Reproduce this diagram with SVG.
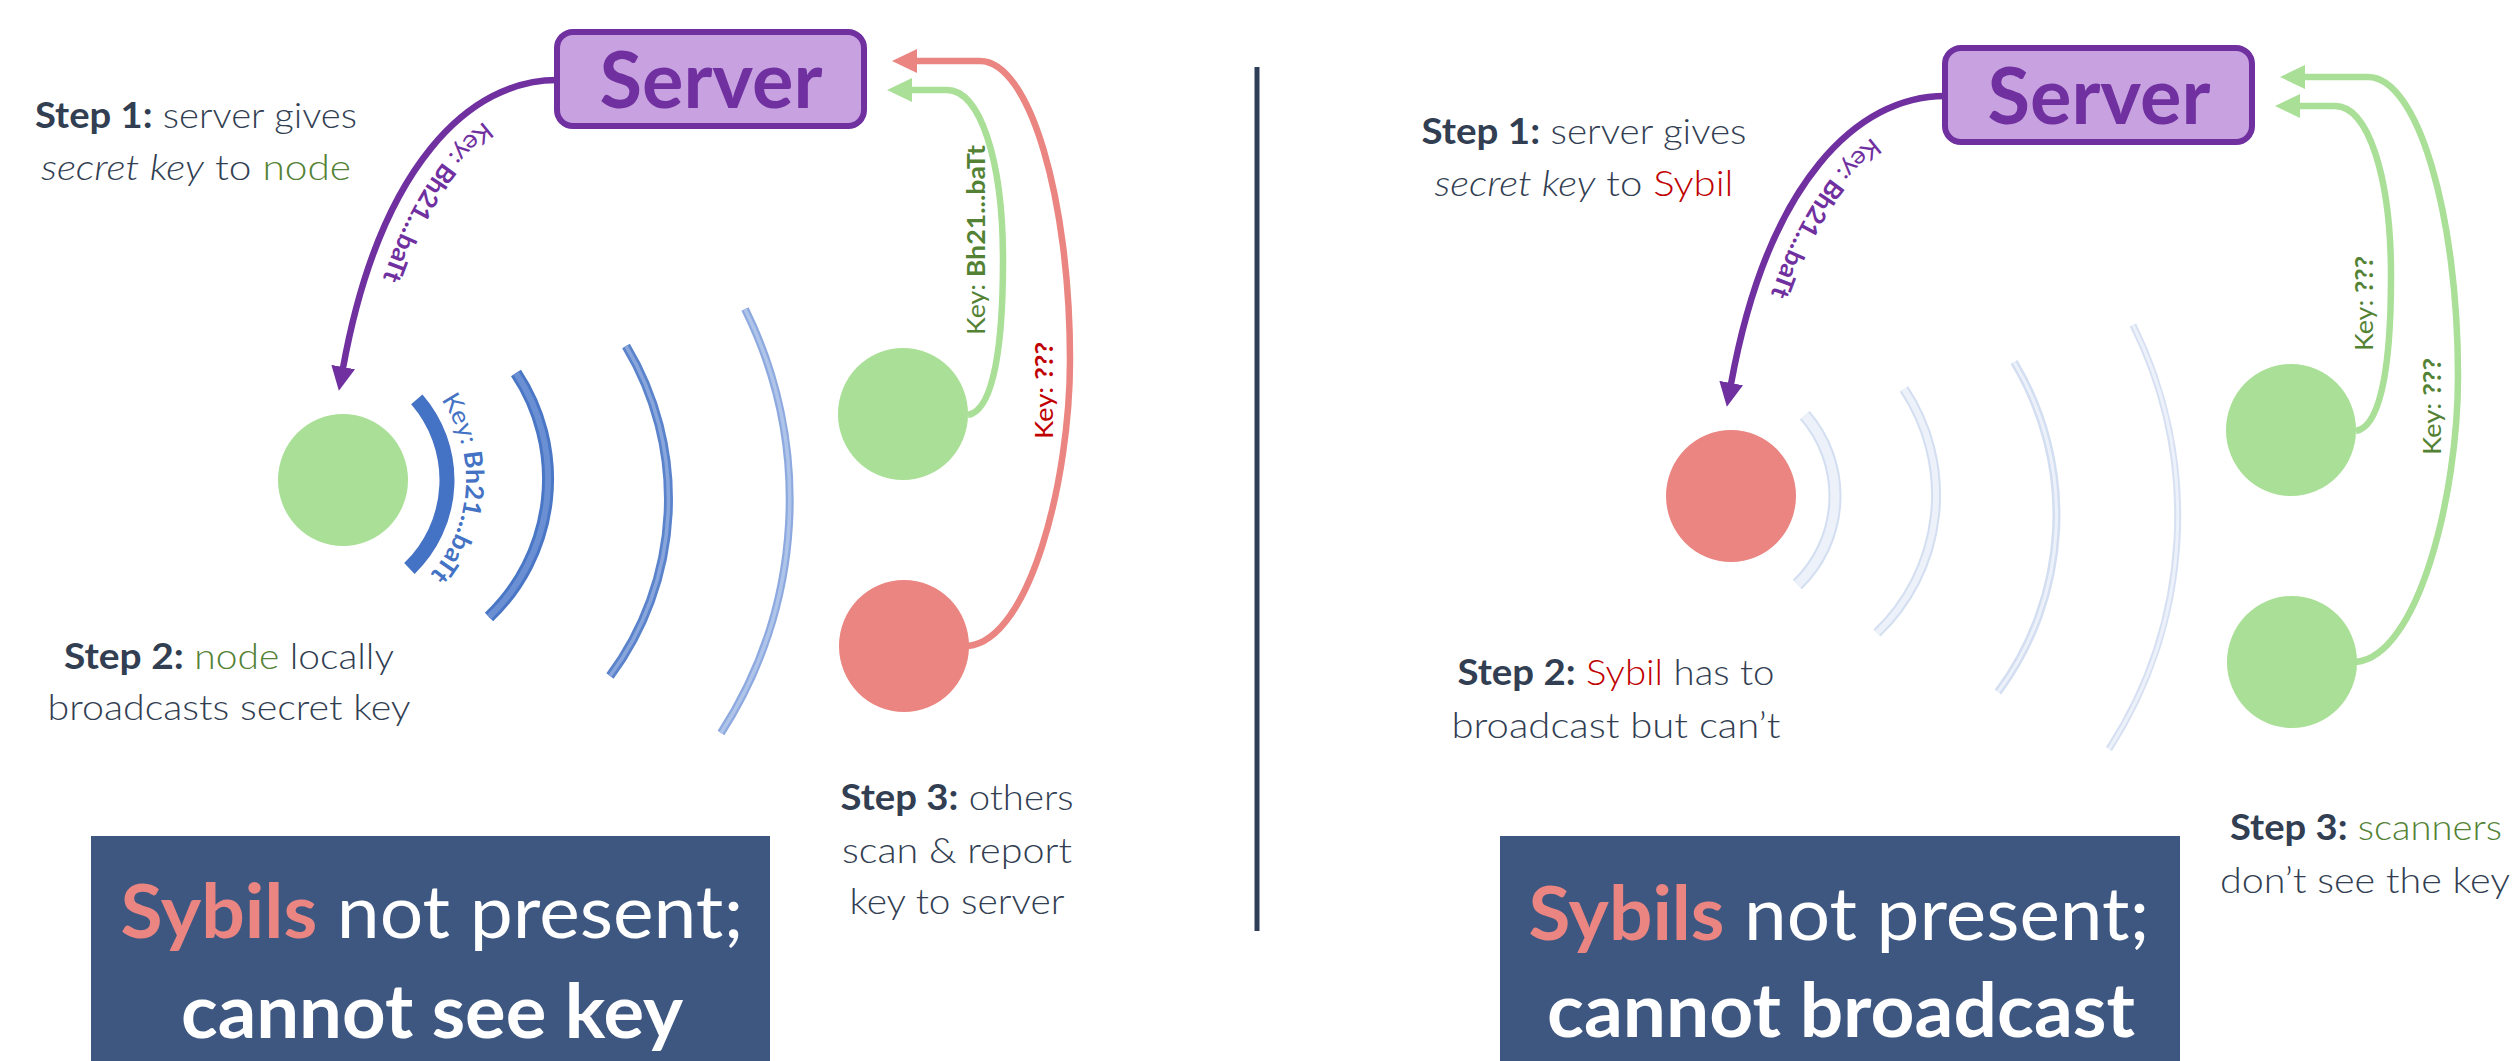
<svg xmlns="http://www.w3.org/2000/svg" width="2516" height="1061" viewBox="0 0 2516 1061">
  <defs>
    <style>
      .txt { font-family: Lato, "Open Sans", "Liberation Sans", sans-serif; fill: #323E52; }
      .step { font-size: 36px; font-weight: 300; }
      .b { font-weight: 700; }
      .i { font-style: italic; }
      .g { fill: #548235; }
      .r { fill: #C00000; }
      .key { font-size: 25px; font-weight: 400; }
      .srv-box { fill: #C8A2E0; stroke: #7030A0; stroke-width: 6; }
      .srv-txt { font-family: Lato, "Open Sans", "Liberation Sans", sans-serif; font-size: 78px; font-weight: 700; fill: #7030A0; }
      .banner { fill: #3E5781; }
      .banner-txt { font-family: Lato, "Open Sans", "Liberation Sans", sans-serif; font-size: 74px; fill: #FFFFFF; }
      .salmon { fill: #EA8581; }
      .green-node { fill: #A9DF96; }
      .red-node { fill: #EA8581; }
      .conn { fill: none; stroke-width: 6.5; }
      .c-purple { stroke: #7030A0; marker-end: url(#ah-purple); }
      .c-green { stroke: #A9DF96; marker-end: url(#ah-green); }
      .c-red { stroke: #EA8581; marker-end: url(#ah-red); }
      .wave { fill: none; stroke-linecap: butt; }
    </style>
    <marker id="ah-purple" markerUnits="userSpaceOnUse" markerWidth="24" markerHeight="24" viewBox="0 0 24 24" refX="1" refY="12" orient="auto">
      <path d="M0,0 L24,12 L0,24 Z" fill="#7030A0"/>
    </marker>
    <marker id="ah-green" markerUnits="userSpaceOnUse" markerWidth="25" markerHeight="24" viewBox="0 0 25 24" refX="1" refY="12" orient="auto">
      <path d="M0,0 L25,12 L0,24 Z" fill="#A9DF96"/>
    </marker>
    <marker id="ah-red" markerUnits="userSpaceOnUse" markerWidth="25" markerHeight="24" viewBox="0 0 25 24" refX="1" refY="12" orient="auto">
      <path d="M0,0 L25,12 L0,24 Z" fill="#EA8581"/>
    </marker>
    <!-- baseline guides for curved labels -->
    <path id="purple-label-path" d="M 567,92 C 484,92 394,177 357,380"/>
    <path id="blue-label-path" d="M 438.9,396.5 A 142 142 0 0 1 426.1,578.6"/>
  </defs>

  <rect width="2516" height="1061" fill="#FFFFFF"/>

  <!-- divider -->
  <line x1="1257" y1="67" x2="1257" y2="931" stroke="#2F3E58" stroke-width="5"/>

  <!-- ===== left panel: honest node ===== -->
  <g id="waves-left">
    <path class="wave" d="M 416.8,399.3 A 123 123 0 0 1 409.4,568.5" stroke="#4472C4" stroke-width="15"/>
    <path class="wave" d="M 516,373 A 191 191 0 0 1 489,617" stroke="#4A76C6" stroke-width="12"/>
    <path class="wave" d="M 516,373 A 191 191 0 0 1 489,617" stroke="#6B8FD3" stroke-width="6"/>
    <path class="wave" d="M 626,346 A 297 297 0 0 1 610,676" stroke="#5A83CC" stroke-width="9"/>
    <path class="wave" d="M 626,346 A 297 297 0 0 1 610,676" stroke="#88A6DC" stroke-width="3.5"/>
    <path class="wave" d="M 745,309 A 430 430 0 0 1 721,733" stroke="#8DA9DF" stroke-width="8"/>
    <path class="wave" d="M 745,309 A 430 430 0 0 1 721,733" stroke="#AFC4E9" stroke-width="3.5"/>
    <text class="txt key" style="fill:#4472C4"><textPath href="#blue-label-path" startOffset="4" textLength="188" lengthAdjust="spacingAndGlyphs">Key: <tspan class="b">Bh21...baTt</tspan></textPath></text>
  </g>

  <g id="connectors">
    <g id="connectors-left">
      <path class="conn c-purple" d="M 557,80 C 470,80 380,165 343,368"/>
      <path class="conn c-green" d="M 968,415 C 995,410 1003,340 1003,260 C 1003,160 980,90 947,90 L 911,90"/>
      <path class="conn c-red" d="M 968,646 C 1030,640 1070,480 1070,360 C 1070,200 1030,61 980,61 L 916,61"/>
      <text class="txt key" style="fill:#7030A0"><textPath href="#purple-label-path" startOffset="48%" text-anchor="middle" textLength="190" lengthAdjust="spacingAndGlyphs">Key: <tspan class="b">Bh21...baTt</tspan></textPath></text>
      <text class="txt key g" transform="translate(985,335) rotate(-90)" textLength="190" lengthAdjust="spacingAndGlyphs">Key: <tspan class="b">Bh21...baTt</tspan></text>
      <text class="txt key r" transform="translate(1053,439) rotate(-90)" textLength="97" lengthAdjust="spacingAndGlyphs">Key: <tspan class="b">???</tspan></text>
    </g>
    <g id="connectors-right" transform="translate(1388,16)">
      <path class="conn c-purple" d="M 557,80 C 470,80 380,165 343,368"/>
      <path class="conn c-green" d="M 968,415 C 995,410 1003,340 1003,260 C 1003,160 980,90 947,90 L 911,90"/>
      <path class="conn c-green" d="M 968,646 C 1030,640 1070,480 1070,360 C 1070,200 1030,61 980,61 L 916,61"/>
      <text class="txt key" style="fill:#7030A0"><textPath href="#purple-label-path" startOffset="48%" text-anchor="middle" textLength="190" lengthAdjust="spacingAndGlyphs">Key: <tspan class="b">Bh21...baTt</tspan></textPath></text>
      <text class="txt key g" transform="translate(985,335) rotate(-90)" textLength="95" lengthAdjust="spacingAndGlyphs">Key: <tspan class="b">???</tspan></text>
      <text class="txt key g" transform="translate(1053,439) rotate(-90)" textLength="97" lengthAdjust="spacingAndGlyphs">Key: <tspan class="b">???</tspan></text>
    </g>
  </g>

  <g id="server-left">
    <rect class="srv-box" x="557" y="32" width="307" height="94" rx="16"/>
    <text class="srv-txt" x="711" y="108" text-anchor="middle" textLength="223" lengthAdjust="spacingAndGlyphs">Server</text>
  </g>
  <g id="node-left-broadcaster"><ellipse class="green-node" cx="343" cy="480" rx="65" ry="66"/></g>
  <g id="node-left-scanner"><ellipse class="green-node" cx="903" cy="414" rx="65" ry="66"/></g>
  <g id="node-left-sybil"><ellipse class="red-node" cx="904" cy="646" rx="65" ry="66"/></g>

  <g id="notes-left" class="txt step">
    <text x="196" y="128" text-anchor="middle" textLength="322" lengthAdjust="spacingAndGlyphs"><tspan class="b">Step 1:</tspan> server gives</text>
    <text x="196" y="180" text-anchor="middle" textLength="310" lengthAdjust="spacingAndGlyphs"><tspan class="i">secret key</tspan> to <tspan class="g">node</tspan></text>
    <text x="229" y="669" text-anchor="middle" textLength="330" lengthAdjust="spacingAndGlyphs"><tspan class="b">Step 2:</tspan> <tspan class="g">node</tspan> locally</text>
    <text x="229" y="720" text-anchor="middle" textLength="363" lengthAdjust="spacingAndGlyphs">broadcasts secret key</text>
    <text x="957" y="810" text-anchor="middle" textLength="233" lengthAdjust="spacingAndGlyphs"><tspan class="b">Step 3:</tspan> others</text>
    <text x="957" y="863" text-anchor="middle" textLength="230" lengthAdjust="spacingAndGlyphs">scan &amp; report</text>
    <text x="957" y="914" text-anchor="middle" textLength="215" lengthAdjust="spacingAndGlyphs">key to server</text>
  </g>

  <g id="banner-left">
    <rect class="banner" x="91" y="836" width="679" height="225"/>
    <text class="banner-txt" x="432" y="938" text-anchor="middle" textLength="623" lengthAdjust="spacingAndGlyphs"><tspan class="b salmon">Sybils</tspan> not present;</text>
    <text class="banner-txt b" x="432" y="1038" text-anchor="middle" textLength="502" lengthAdjust="spacingAndGlyphs">cannot see key</text>
  </g>

  <!-- ===== right panel: Sybil node ===== -->
  <g id="waves-right" transform="translate(1388,16)">
    <path class="wave" d="M 416.8,399.3 A 123 123 0 0 1 409.4,568.5" stroke="#D3DEF1" stroke-width="13"/>
    <path class="wave" d="M 416.8,399.3 A 123 123 0 0 1 409.4,568.5" stroke="#EDF2FA" stroke-width="9"/>
    <path class="wave" d="M 516,373 A 191 191 0 0 1 489,617" stroke="#D3DEF1" stroke-width="10"/>
    <path class="wave" d="M 516,373 A 191 191 0 0 1 489,617" stroke="#EDF2FA" stroke-width="6"/>
    <path class="wave" d="M 626,346 A 297 297 0 0 1 610,676" stroke="#D3DEF1" stroke-width="8"/>
    <path class="wave" d="M 626,346 A 297 297 0 0 1 610,676" stroke="#EDF2FA" stroke-width="3"/>
    <path class="wave" d="M 745,309 A 430 430 0 0 1 721,733" stroke="#D6E0F2" stroke-width="7"/>
    <path class="wave" d="M 745,309 A 430 430 0 0 1 721,733" stroke="#EDF2FA" stroke-width="3"/>
  </g>

  <g id="server-right">
    <rect class="srv-box" x="1945" y="48" width="307" height="94" rx="16"/>
    <text class="srv-txt" x="2099" y="124" text-anchor="middle" textLength="223" lengthAdjust="spacingAndGlyphs">Server</text>
  </g>
  <g id="node-right-sybil"><ellipse class="red-node" cx="1731" cy="496" rx="65" ry="66"/></g>
  <g id="node-right-scanner-1"><ellipse class="green-node" cx="2291" cy="430" rx="65" ry="66"/></g>
  <g id="node-right-scanner-2"><ellipse class="green-node" cx="2292" cy="662" rx="65" ry="66"/></g>

  <g id="notes-right" class="txt step">
    <text x="1584" y="144" text-anchor="middle" textLength="325" lengthAdjust="spacingAndGlyphs"><tspan class="b">Step 1:</tspan> server gives</text>
    <text x="1584" y="196" text-anchor="middle" textLength="299" lengthAdjust="spacingAndGlyphs"><tspan class="i">secret key</tspan> to <tspan class="r">Sybil</tspan></text>
    <text x="1616" y="685" text-anchor="middle" textLength="317" lengthAdjust="spacingAndGlyphs"><tspan class="b">Step 2:</tspan> <tspan class="r">Sybil</tspan> has to</text>
    <text x="1616" y="738" text-anchor="middle" textLength="329" lengthAdjust="spacingAndGlyphs">broadcast but can’t</text>
    <text x="2366" y="840" text-anchor="middle" textLength="272" lengthAdjust="spacingAndGlyphs"><tspan class="b">Step 3:</tspan> <tspan class="g">scanners</tspan></text>
    <text x="2365" y="893" text-anchor="middle" textLength="290" lengthAdjust="spacingAndGlyphs">don’t see the key</text>
  </g>

  <g id="banner-right">
    <rect class="banner" x="1500" y="836" width="680" height="225"/>
    <text class="banner-txt" x="1839" y="940" text-anchor="middle" textLength="621" lengthAdjust="spacingAndGlyphs"><tspan class="b salmon">Sybils</tspan> not present;</text>
    <text class="banner-txt b" x="1841" y="1037" text-anchor="middle" textLength="588" lengthAdjust="spacingAndGlyphs">cannot broadcast</text>
  </g>
</svg>
